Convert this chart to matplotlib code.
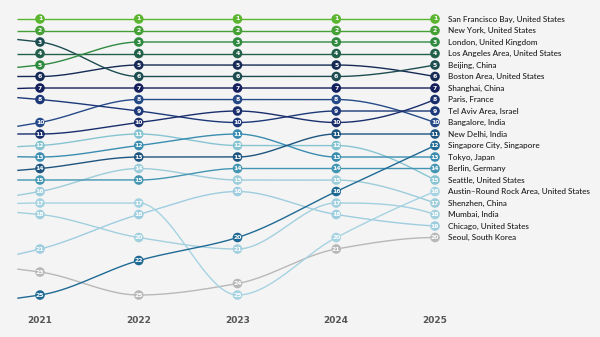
import numpy as np
import matplotlib.pyplot as plt

years = [2020, 2021, 2022, 2023, 2024, 2025]
cities = ["San Francisco Bay, United States", "New York, United States",
          "London, United Kingdom", "Los Angeles Area, United States",
          "Beijing, China", "Boston Area, United States", "Shanghai, China",
          "Paris, France", "Tel Aviv Area, Israel", "Bangalore, India",
          "New Delhi, India", "Singapore City, Singapore", "Tokyo, Japan",
          "Berlin, Germany", "Seattle, United States",
          "Austin–Round Rock Area, United States", "Shenzhen, China",
          "Mumbai, India", "Chicago, United States", "Seoul, South Korea"]
# 2020 column is only the lead-in seen at the left edge
ranks = [
    [1, 1, 1, 1, 1, 1],
    [2, 2, 2, 2, 2, 2],
    [5.6, 5, 3, 3, 3, 3],
    [4, 4, 4, 4, 4, 4],
    [2.4, 3, 6, 6, 6, 5],
    [6, 6, 5, 5, 5, 6],
    [7.6, 7, 7, 7, 7, 7],
    [11, 11, 10, 9, 10, 8],
    [7.4, 8, 9, 10, 9, 9],
    [11.2, 10, 8, 8, 8, 10],
    [14.6, 14, 13, 13, 11, 11],
    [25.8, 25, 22, 20, 16, 12],
    [12.4, 13, 12, 11, 13, 13],
    [15, 15, 15, 14, 14, 14],
    [12.3, 12, 11, 12, 12, 15],
    [17.5, 17, 17, 25, 20, 16],
    [17.2, 16, 14, 15, 15, 17],
    [17.5, 18, 20, 21, 17, 18],
    [22.6, 21, 18, 16, 18, 19],
    [22.2, 23, 25, 24, 21, 20],
]
colors = ["#5bb530", "#45a035", "#2f8a40", "#22604a", "#1d4d50", "#152a55",
          "#141f5c", "#1a2e6c", "#1c3878", "#264a88", "#1d5580", "#1f6a94",
          "#3a8db0", "#4396b2", "#86c4d2", "#a6d3e2", "#9dccda", "#a3d0de",
          "#9ecde0", "#b8b8b8"]


def pchip(x, y, xs):
    x = np.asarray(x, float)
    y = np.asarray(y, float)
    h = np.diff(x)
    d = np.diff(y) / h
    m = np.zeros_like(y)
    for k in range(1, len(x) - 1):
        if d[k - 1] * d[k] > 0:
            w1 = 2 * h[k] + h[k - 1]
            w2 = h[k] + 2 * h[k - 1]
            m[k] = (w1 + w2) / (w1 / d[k - 1] + w2 / d[k])
    for i, (h0, h1, d0, d1) in [(0, (h[0], h[1], d[0], d[1])), (-1, (h[-1], h[-2], d[-1], d[-2]))]:
        e = ((2 * h0 + h1) * d0 - h0 * d1) / (h0 + h1)
        if np.sign(e) != np.sign(d0):
            e = 0
        elif np.sign(d0) != np.sign(d1) and abs(e) > abs(3 * d0):
            e = 3 * d0
        m[i] = e
    idx = np.clip(np.searchsorted(x, xs) - 1, 0, len(x) - 2)
    t = (xs - x[idx]) / h[idx]
    h00 = 2 * t**3 - 3 * t**2 + 1
    h10 = t**3 - 2 * t**2 + t
    h01 = -2 * t**3 + 3 * t**2
    h11 = t**3 - t**2
    return h00 * y[idx] + h10 * h[idx] * m[idx] + h01 * y[idx + 1] + h11 * h[idx] * m[idx + 1]


fig = plt.figure(figsize=(6, 3.37), dpi=100)
fig.patch.set_facecolor("#f4f4f4")
ax = fig.add_axes([0, 0, 1, 1])
ax.set_facecolor("#f4f4f4")
ax.set_xlim(2020.595, 2026.671)
ax.set_ylim(28.65, -0.652)
ax.axis("off")

xs = np.linspace(2020.77, 2025, 400)
for i in range(len(cities) - 1, -1, -1):
    r = ranks[i]
    ax.plot(xs, pchip(years, r, xs), color=colors[i], lw=1.0, zorder=2, solid_capstyle="butt")
    ax.scatter(years[1:], r[1:], s=48, color=colors[i], edgecolor="none", zorder=3)
    for yr, rk in zip(years[1:], r[1:]):
        ax.text(yr, rk, str(rk), color="white", fontsize=4.4, fontweight="bold",
                ha="center", va="center", zorder=4)
    ax.text(2025.13, r[-1], cities[i], fontsize=5.9, family="Lato", fontweight="medium",
            color="#1e1e1e", va="center", ha="left")

for yr in years[1:]:
    ax.text(yr, 27.25, str(yr), fontsize=6.5, fontweight="bold", color="#555555",
            ha="center", va="center")

fig.savefig("out.png", dpi=100, facecolor=fig.get_facecolor())
